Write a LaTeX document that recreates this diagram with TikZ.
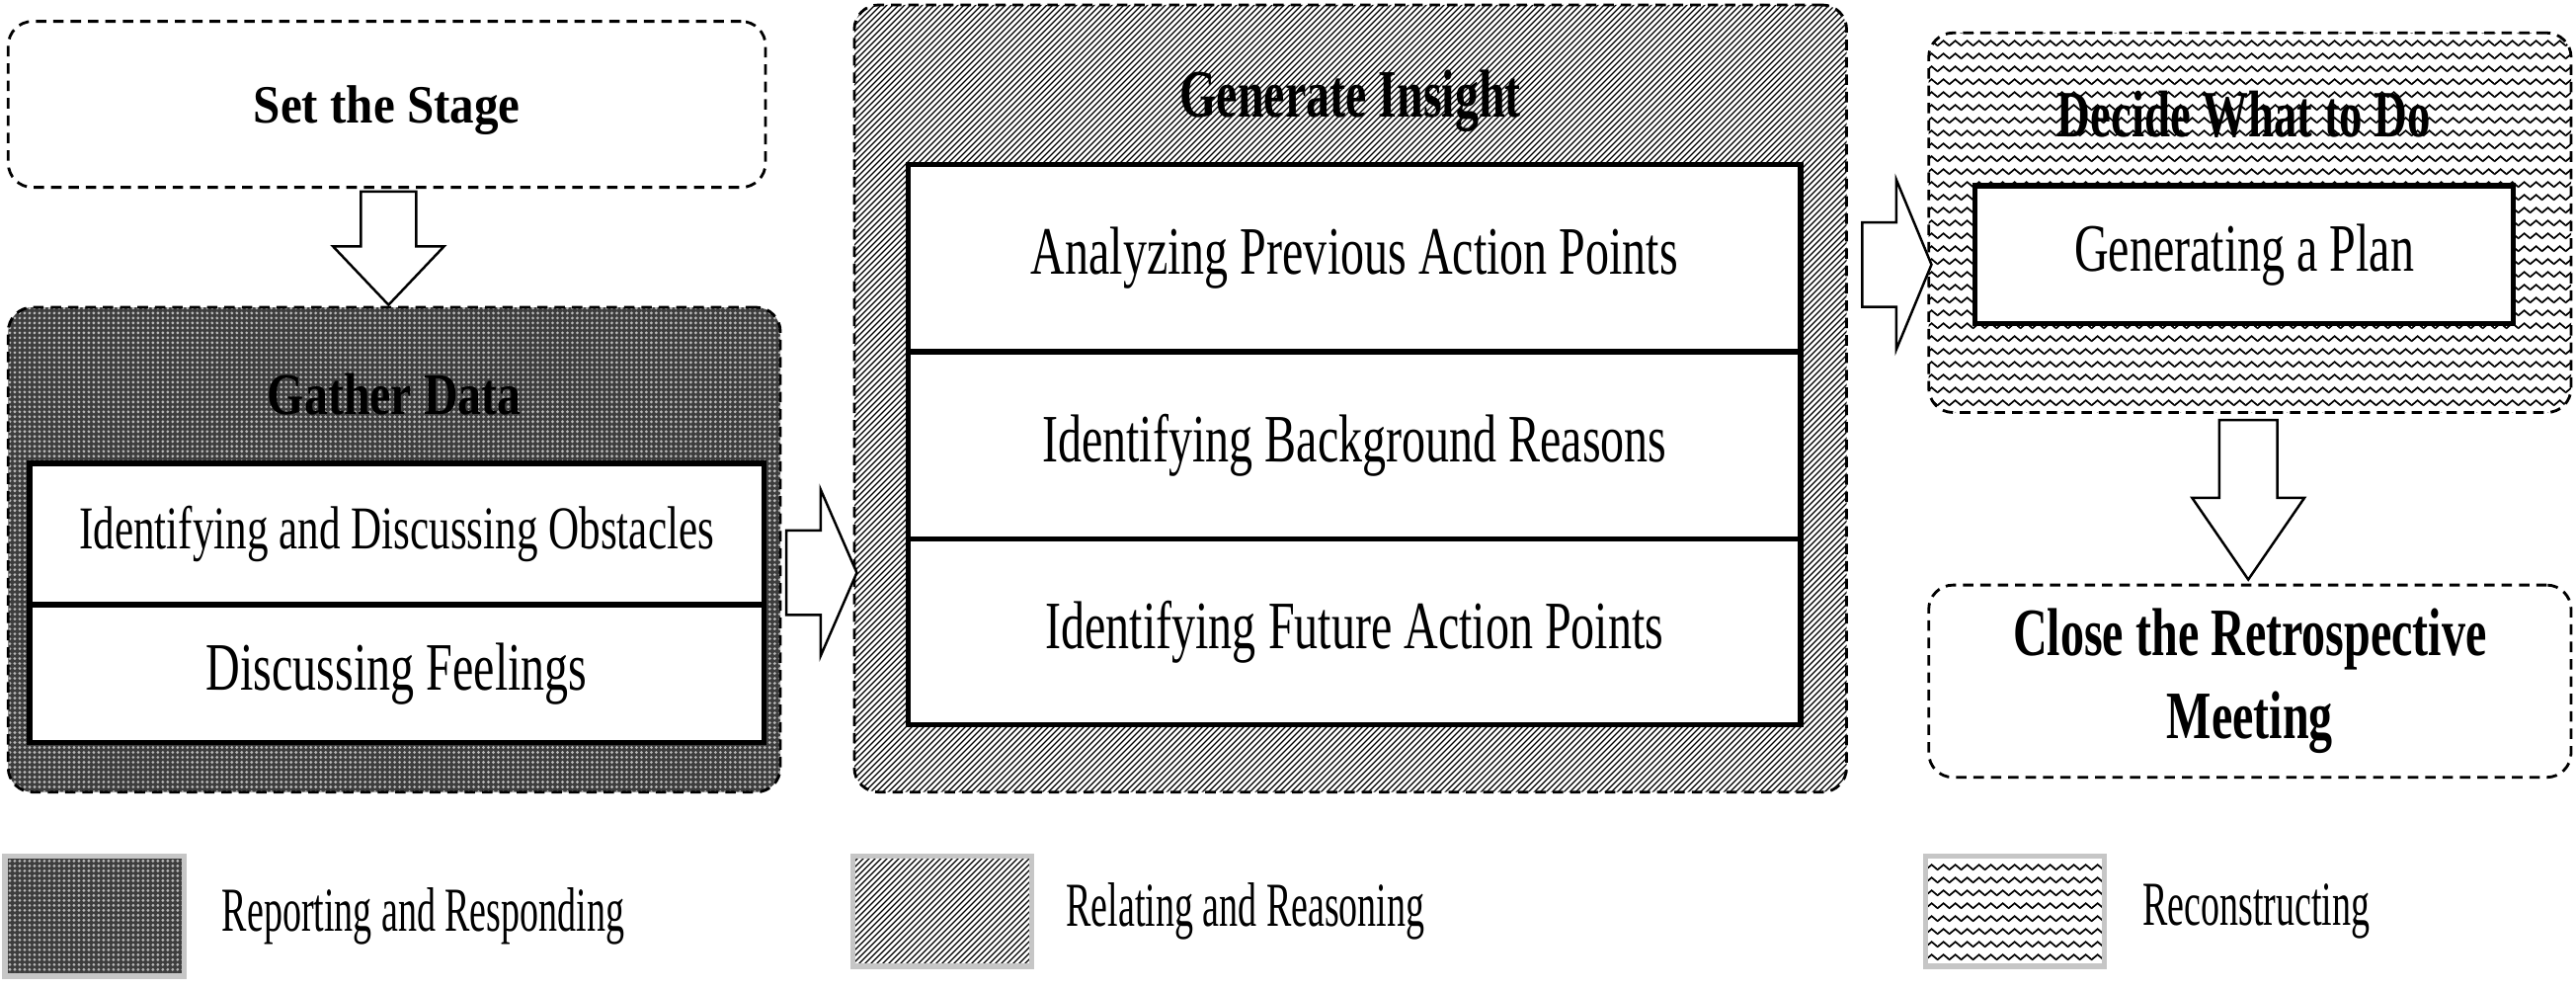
\documentclass[tikz,border=0pt]{standalone}
\usepackage{fontspec}
\setmainfont{Liberation Serif}[FakeStretch=0.7]
\newfontfamily\stagefont{Liberation Serif}[FakeStretch=0.9]
\newfontfamily\midfont{Liberation Serif}[FakeStretch=0.8]
\newfontfamily\legfont{Liberation Serif}[FakeStretch=0.6]
\usetikzlibrary{patterns.meta,shapes.arrows,positioning,calc}

% zigzag rows for the reconstructing phase
\pgfdeclarepattern{
  name=zigzag,
  type=uncolored,
  bottom left={\pgfpoint{0pt}{0pt}},
  top right={\pgfpoint{3.3pt}{3.8pt}},
  tile size={\pgfpoint{3.3pt}{3.8pt}},
  code={
    \pgfsetlinewidth{0.5pt}
    \pgfpathmoveto{\pgfpoint{-0.2pt}{1.03pt}}
    \pgfpathlineto{\pgfpoint{1.65pt}{2.6pt}}
    \pgfpathlineto{\pgfpoint{3.5pt}{1.03pt}}
    \pgfusepath{stroke}
  }
}
% diagonal hatch for the relating phase
\pgfdeclarepattern{
  name=diaglines,
  type=uncolored,
  bottom left={\pgfpoint{0pt}{0pt}},
  top right={\pgfpoint{1.7pt}{1.7pt}},
  tile size={\pgfpoint{1.7pt}{1.7pt}},
  code={
    \pgfsetlinewidth{0.38pt}
    \pgfpathmoveto{\pgfpoint{-0.3pt}{-0.3pt}}
    \pgfpathlineto{\pgfpoint{2pt}{2pt}}
    \pgfpathmoveto{\pgfpoint{-0.3pt}{1.4pt}}
    \pgfpathlineto{\pgfpoint{0.3pt}{2pt}}
    \pgfpathmoveto{\pgfpoint{1.4pt}{-0.3pt}}
    \pgfpathlineto{\pgfpoint{2pt}{0.3pt}}
    \pgfusepath{stroke}
  }
}

\begin{document}
\begin{tikzpicture}
        [x=0.4728pt, y=-0.4728pt,
        span/.style n args={4}{minimum width={(#3-#1)*0.4728pt}, minimum height={(#4-#2)*0.4728pt}, at={({(#1+#3)/2},{(#2+#4)/2})}},
        phase/.style={draw, rounded corners=7pt, inner sep=0pt, line width=0.8pt, dash pattern=on 3pt off 2pt},
        dotfill/.style={preaction={fill=black!76}, pattern={Dots[distance=1.42pt,radius=0.45pt]}, pattern color=gray!55},
        linefill/.style={preaction={fill=white}, pattern=diaglines, pattern color=black},
        wavefill/.style={preaction={fill=white}, pattern=zigzag, pattern color=black},
        title/.style={inner sep=0pt, anchor=base},
        activity/.style={draw, fill=white, line width=1.5pt, inner sep=0pt, font=\fontsize{19.5}{23}\selectfont},
        blockarrow/.style={single arrow, draw, fill=white, line width=0.7pt, inner xsep=0pt, single arrow head indent=0pt, anchor=tail},
        legkey/.style={draw=gray!45, line width=1.5pt, inner sep=0pt},
        legtext/.style={font=\legfont\fontsize{18}{21}\selectfont, inner sep=0pt}]

        \useasboundingbox (0,0) rectangle (1568,602);

        % phases of the retrospective
        \node[phase, span={5}{13}{466}{114}, text depth=0pt, font=\stagefont\bfseries\fontsize{15.5}{18}\selectfont] (stage) {Set the Stage};
        \node[phase, dotfill, span={5}{187}{475}{482}] (gather) {};
        \node[phase, linefill, span={520}{3}{1124}{482}] (insight) {};
        \node[phase, wavefill, span={1174}{20}{1565}{251}] (decide) {};
        \node[phase, span={1174}{356}{1565}{473}, align=center, font=\bfseries\fontsize{19.5}{24}\selectfont] (close) {Close the Retrospective\\Meeting};

        % phase titles
        \node[title, font=\midfont\bfseries\fontsize{17}{20}\selectfont] (gathertitle) at (240,252) {Gather Data};
        \node[title, font=\bfseries\fontsize{19.5}{23}\selectfont] (insighttitle) at (822,71) {Generate Insight};
        \node[title, font=\bfseries\fontsize{19}{23}\selectfont] (decidetitle) at (1366,83) {Decide What to Do};

        % activities
        \node[activity, span={18}{282}{465}{368}, font=\fontsize{17.5}{20}\selectfont] (obst) {Identifying and Discussing Obstacles};
        \node[activity, span={18}{368}{465}{452}] (feel) {Discussing Feelings};
        \node[activity, span={553}{100}{1096}{214}] (prev) {Analyzing Previous Action Points};
        \node[activity, span={553}{214}{1096}{328}] (backg) {Identifying Background Reasons};
        \node[activity, span={553}{328}{1096}{441}] (future) {Identifying Future Action Points};
        \node[activity, span={1202}{113}{1530}{197}] (plan) {Generating a Plan};

        % block arrows between the phases
        \node[blockarrow, rotate=-90, minimum height=32.6pt, minimum width=31.2pt, inner ysep=7.6pt, single arrow head extend=8pt, single arrow tip angle=87] (a1) at ($(stage.south)+(1,1)$) {};
        \node[blockarrow, minimum height=20.3pt, minimum width=47.2pt, inner ysep=11.8pt, single arrow head extend=11.8pt, single arrow tip angle=133] (a2) at ($(gather.east)+(2,14)$) {};
        \node[blockarrow, minimum height=19.9pt, minimum width=48.2pt, inner ysep=11.8pt, single arrow head extend=12.3pt, single arrow tip angle=135] (a3) at ($(plan.west -| insight.east)+(8,6)$) {};
        \node[blockarrow, rotate=-90, minimum height=45.9pt, minimum width=31.6pt, inner ysep=8pt, single arrow head extend=7.8pt, single arrow tip angle=69] (a4) at ($(decide.south)+(-1,3)$) {};

        % legend
        \node[legkey, dotfill, span={3}{521}{112}{594}] (key1) {};
        \node[legkey, linefill, span={519}{521}{628}{588}] (key2) {};
        \node[legkey, wavefill, span={1172}{521}{1281}{588}] (key3) {};
        \node[legtext, right=10pt of key1] (leg1) {Reporting and Responding};
        \node[legtext, right=9pt of key2] (leg2) {Relating and Reasoning};
        \node[legtext, right=10pt of key3] (leg3) {Reconstructing};

    \end{tikzpicture}
\end{document}
